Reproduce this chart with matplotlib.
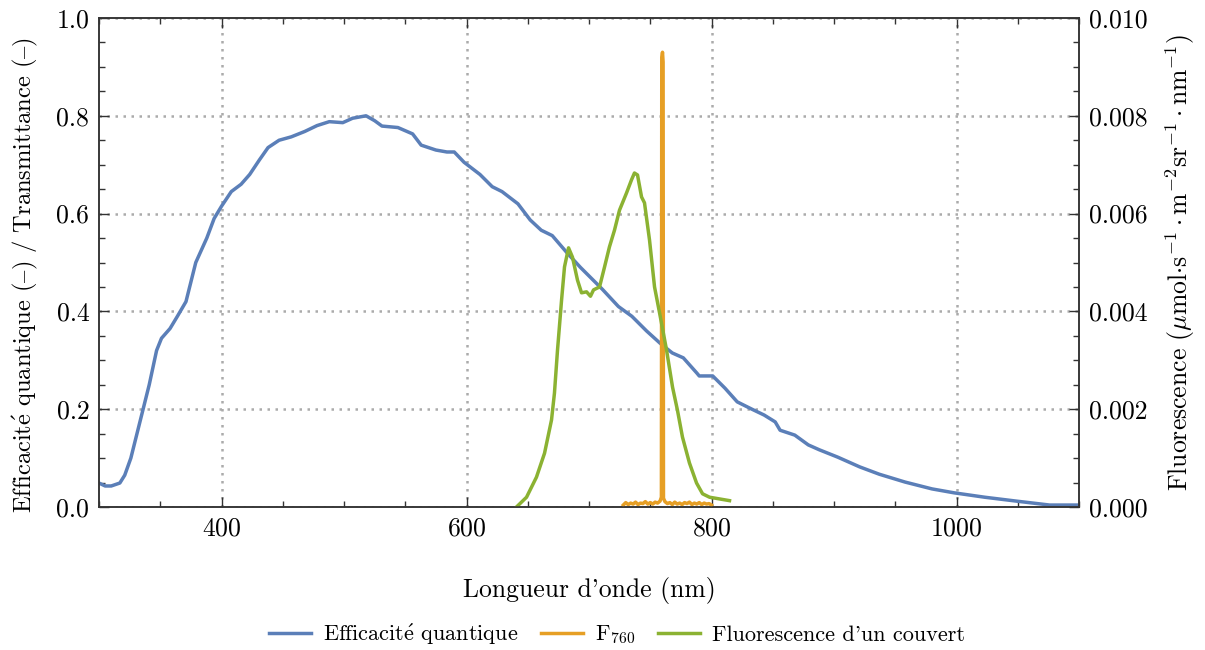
import matplotlib
matplotlib.use("Agg")
import matplotlib.pyplot as plt
from matplotlib.ticker import MultipleLocator

plt.rcParams["font.family"] = ["cmr10", "DejaVu Serif"]
plt.rcParams["mathtext.fontset"] = "cm"
plt.rcParams["axes.formatter.use_mathtext"] = True
plt.rcParams["font.size"] = 18.5

BLUE = "#5b7fb8"
ORANGE = "#e69f25"
GREEN = "#8bb232"

# quantum efficiency of the sensor (left axis)
qe_wl = [300, 305, 310, 317, 321, 326, 333, 341, 347, 351, 358, 364, 371, 379, 388,
         394, 400, 408, 416, 423, 431, 438, 447, 457, 468, 478, 488, 499, 507, 518,
         525, 531, 544, 556, 563, 575, 584, 590, 598, 611, 621, 629, 642, 652, 661,
         670, 682, 693, 701, 711, 724, 735, 747, 758, 768, 777, 788, 790, 801, 811,
         821, 833, 843, 852, 856, 868, 879, 888, 903, 921, 937, 958, 980, 998, 1023,
         1049, 1076, 1100]
qe_val = [0.049, 0.043, 0.043, 0.049, 0.065, 0.10, 0.17, 0.25, 0.32, 0.345, 0.365, 0.39,
          0.42, 0.50, 0.55, 0.59, 0.615, 0.645, 0.66, 0.68, 0.71, 0.735, 0.75, 0.757,
          0.768, 0.78, 0.788, 0.786, 0.795, 0.80, 0.79, 0.779, 0.776, 0.763, 0.74, 0.73,
          0.726, 0.726, 0.705, 0.68, 0.655, 0.645, 0.62, 0.587, 0.566, 0.555, 0.52, 0.49,
          0.47, 0.445, 0.41, 0.39, 0.36, 0.335, 0.315, 0.305, 0.274, 0.268, 0.268, 0.243,
          0.215, 0.20, 0.188, 0.174, 0.157, 0.147, 0.127, 0.117, 0.102, 0.082, 0.067,
          0.051, 0.037, 0.029, 0.020, 0.012, 0.004, 0.004]

# F760 line (right axis)
f760_wl = [728, 730, 732, 734, 736, 738, 740, 742, 744, 746, 748, 750, 752, 754, 756,
           758, 759.1, 759.4, 760.0, 760.5, 760.8, 762, 764, 766, 768, 770, 772, 774,
           776, 778, 780, 782, 784, 786, 788, 790, 792, 794, 796, 798, 800]
f760_val = [0.00004, 0.00009, 0.00005, 0.00008, 0.00006, 0.00010, 0.00005, 0.00008,
            0.00007, 0.00011, 0.00006, 0.00009, 0.00006, 0.00010, 0.00008, 0.00012,
            0.00020, 0.0092, 0.0093, 0.0091, 0.00018, 0.00011, 0.00007, 0.00009,
            0.00005, 0.00010, 0.00006, 0.00008, 0.00005, 0.00009, 0.00007, 0.00010,
            0.00005, 0.00008, 0.00006, 0.00009, 0.00005, 0.00008, 0.00006, 0.00007,
            0.00004]

# canopy fluorescence (right axis)
fc_wl = [640.8, 649, 657.1, 663.7, 669.4, 671.8, 674.3, 677.6, 680, 683.3, 686.5, 690.6,
         693.9, 698, 701.2, 703.7, 708.6, 712.7, 716.7, 720.8, 724.9, 730.6, 734.7,
         737.1, 739.6, 742.9, 745.3, 749.4, 753.5, 757.6, 763.3, 768.2, 772.2, 776.3,
         782, 787.8, 792.7, 798.4, 814.7]
fc_val = [0.0, 0.0002, 0.00061, 0.0011, 0.00178, 0.00233, 0.00321, 0.00423, 0.00491,
          0.0053, 0.00511, 0.00464, 0.00438, 0.0044, 0.00431, 0.00444, 0.0045, 0.00491,
          0.00532, 0.00566, 0.00607, 0.00642, 0.00669, 0.00683, 0.00679, 0.00634,
          0.00622, 0.00546, 0.0045, 0.00397, 0.00321, 0.00245, 0.00198, 0.00143,
          0.0009, 0.00049, 0.00027, 0.0002, 0.00013]

fig = plt.figure(figsize=(12.05, 6.5), dpi=100)
ax = fig.add_axes([99 / 1205, 1 - 507 / 650, 980 / 1205, 489 / 650])
ax2 = ax.twinx()

l1, = ax.plot(qe_wl, qe_val, color=BLUE, lw=2.5)
l2, = ax2.plot(f760_wl, f760_val, color=ORANGE, lw=2.5)
l3, = ax2.plot(fc_wl, fc_val, color=GREEN, lw=2.5)

ax.set_xlim(300, 1100)
ax.set_ylim(0, 1)
ax2.set_ylim(0, 0.01)
ax.xaxis.set_major_locator(MultipleLocator(200))
ax.xaxis.set_minor_locator(MultipleLocator(50))
ax.yaxis.set_major_locator(MultipleLocator(0.2))
ax.yaxis.set_minor_locator(MultipleLocator(0.05))
ax2.yaxis.set_major_locator(MultipleLocator(0.002))
ax2.yaxis.set_minor_locator(MultipleLocator(0.0005))
ax.yaxis.set_major_formatter(lambda v, p: f"{v:.1f}")
ax2.yaxis.set_major_formatter(lambda v, p: f"{v:.3f}")

ax.grid(True, which="major", color="#ababab", ls=(0, (1, 2.2)), lw=1.8)
for a in (ax, ax2):
    a.tick_params(which="both", direction="in", width=1.0, color="#333333")
    a.tick_params(which="major", length=7.5, pad=7)
    a.tick_params(which="minor", length=4.5)
    for s in a.spines.values():
        s.set_color("#333333")
        s.set_linewidth(1.1)
ax.tick_params(which="both", top=True, right=False)

ax.set_xlabel("Longueur d'onde (nm)", labelpad=26)
ax.set_ylabel("Efficacit$\\mathrm{\\acute{e}}$ quantique ($\u2013$) / Transmittance ($\u2013$)",
              fontsize=17.6)
ax.yaxis.set_label_coords(-0.06, 0.474)
ax2.set_ylabel(r"Fluorescence ($\mu$mol$\cdot$s$^{-1}\cdot$m$^{-2}$sr$^{-1}\cdot$nm$^{-1}$)",
               labelpad=12)

fig.legend(handles=[l1, l2, l3],
           labels=["Efficacit$\\mathrm{\\acute{e}}$ quantique", r"F$_{760}$",
                   "Fluorescence d'un couvert"],
           loc="center", bbox_to_anchor=(0.512, 1 - 634 / 650), ncol=3, frameon=False,
           fontsize=16, handlelength=1.9, columnspacing=1.0, handletextpad=0.55)

fig.savefig("out.png", dpi=100)
